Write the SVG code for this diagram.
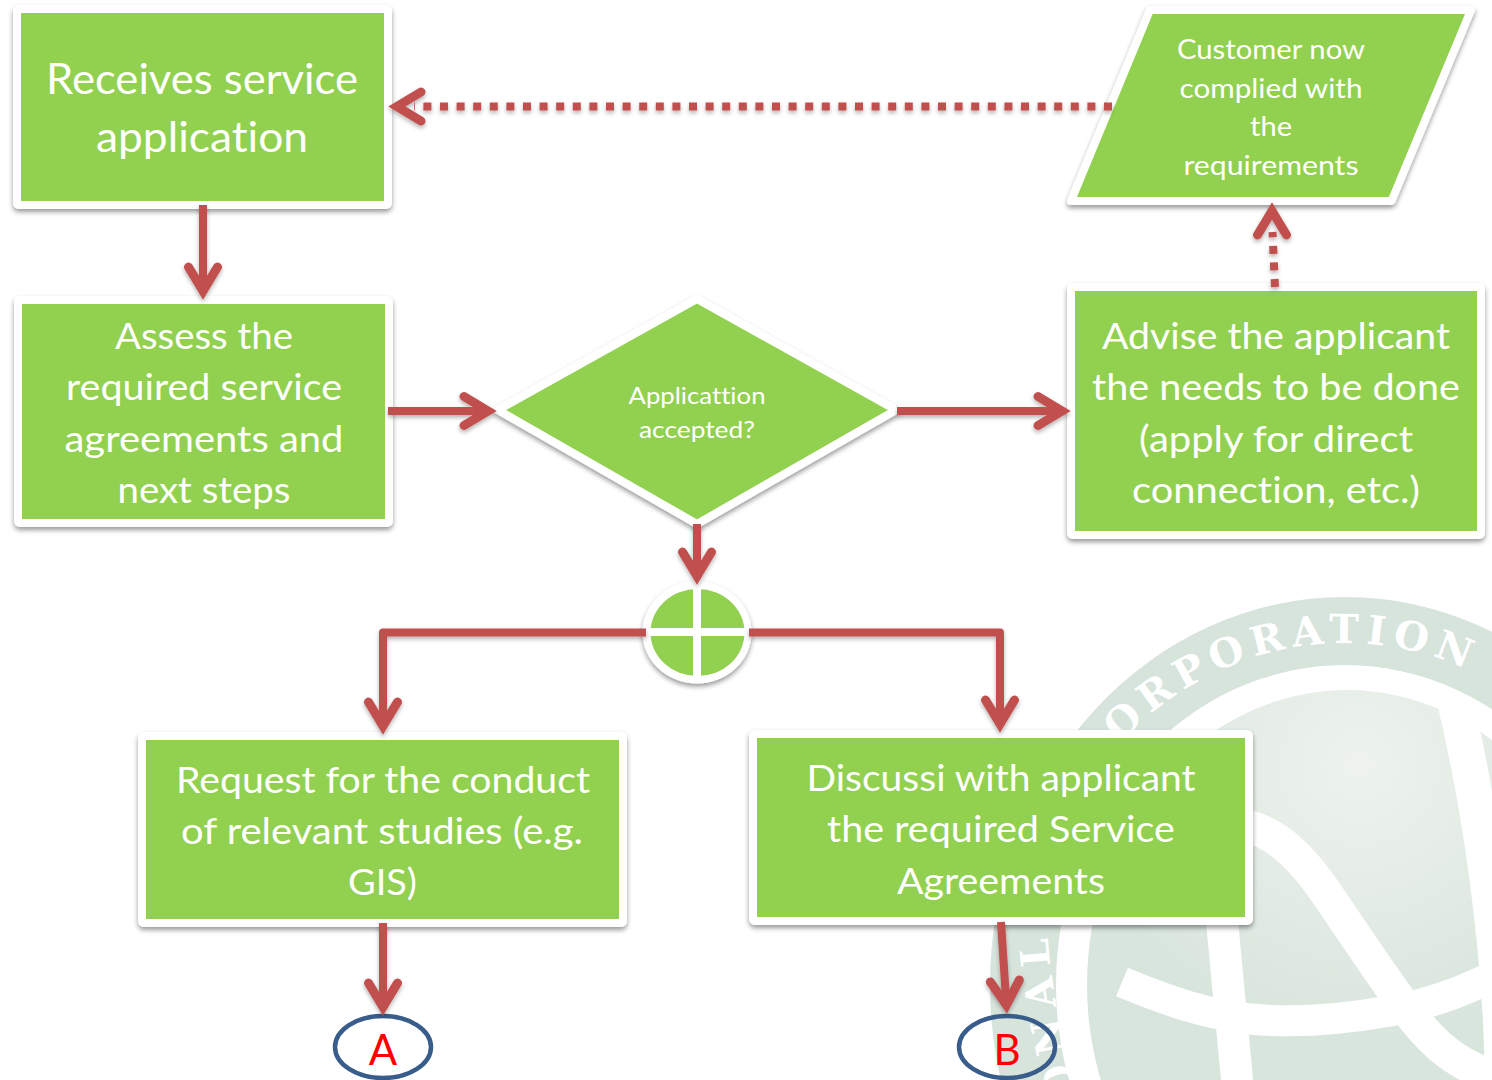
<svg xmlns="http://www.w3.org/2000/svg" width="1492" height="1080" viewBox="0 0 1492 1080">
<defs>
<style>
.box{fill:#92D050;stroke:#fff;stroke-width:8;stroke-linejoin:round;filter:url(#sh)}
.t{font-family:"Lato","Carlito","Liberation Sans",sans-serif;fill:#fff;text-anchor:middle;font-variant-ligatures:none}
.c{fill:none;stroke:#C0504D;stroke-width:8}
.d{stroke-dasharray:8 8.6}
.w{fill:none;stroke:#fff}
.wt{font-family:"DejaVu Serif",serif;font-weight:bold;font-size:40px;letter-spacing:7px;fill:#fff}
.o{fill:none;stroke:#385D8A;stroke-width:4.5}
.l{font-family:"Lato","Carlito","Liberation Sans",sans-serif;fill:#f00;font-size:42px;text-anchor:middle}
</style>
<filter id="sh" x="-10%" y="-10%" width="120%" height="125%"><feDropShadow dx="0" dy="3" stdDeviation="2.500" flood-color="#000" flood-opacity=".4"/></filter>
<filter id="sl" filterUnits="userSpaceOnUse" x="0" y="0" width="1492" height="1080"><feDropShadow dx="0" dy="2.500" stdDeviation="2" flood-color="#000" flood-opacity=".3"/></filter>
<radialGradient id="g" gradientUnits="userSpaceOnUse" cx="1360" cy="765" r="280"><stop offset="0" stop-color="#EEF3ED"/><stop offset="1" stop-color="#D8E5DC"/></radialGradient>
<clipPath id="gc"><ellipse cx="1347" cy="985" rx="260" ry="295"/></clipPath>
<path id="arcTop" d="M1120,743 A318,342 0 0 1 1490,681"/>
<path id="arcLeft" d="M1078,1095 C1062,1040 1050,990 1046,910"/>
<marker id="ah" markerUnits="userSpaceOnUse" markerWidth="50" markerHeight="50" refX="30" refY="25" orient="auto" viewBox="0 0 50 50"><path d="M6,10.500 L30,25 L6,39.500" fill="none" stroke="#C0504D" stroke-width="9" stroke-linecap="round" stroke-linejoin="miter" stroke-miterlimit="10"/></marker>
</defs>
<rect width="1492" height="1080" fill="#fff"/>
<g id="watermark">
<ellipse cx="1345" cy="985" rx="355" ry="388" fill="#D7E4DC"/>
<ellipse cx="1345" cy="985" rx="289" ry="320" fill="#fff"/>
<ellipse cx="1347" cy="985" rx="260" ry="295" fill="url(#g)"/>
<g clip-path="url(#gc)">
<path class="w" stroke-width="33" d="M1240,825 C1280,830 1310,868 1333,903 C1360,943 1385,980 1405,1007 C1425,1035 1450,1062 1490,1075"/>
<path class="w" stroke-width="31" d="M1122,982 C1170,1002 1210,1015 1250,1019 C1300,1024 1350,1018 1390,1011 C1425,1005 1455,995 1490,978"/>
<path class="w" stroke-width="32" d="M1220,900 C1226,960 1232,1030 1238,1090"/>
<path class="w" stroke-width="36" d="M1450,680 C1480,800 1502,950 1503,1090"/>
</g>
<text class="wt"><textPath href="#arcTop">ORPORATION</textPath></text>
<text class="wt" style="letter-spacing:10px"><textPath href="#arcLeft">ONAL</textPath></text>
</g>
<g id="n1"><rect class="box" x="17" y="9" width="371" height="196" rx="2"/>
<text class="t" font-size="42" x="202" y="94" textLength="312" lengthAdjust="spacingAndGlyphs">Receives service</text>
<text class="t" font-size="42" x="202" y="152" textLength="212" lengthAdjust="spacingAndGlyphs">application</text></g>
<g id="n2"><rect class="box" x="18" y="300" width="371" height="223" rx="2"/>
<text class="t" font-size="37" x="204" y="349" textLength="178" lengthAdjust="spacingAndGlyphs">Assess the</text>
<text class="t" font-size="37" x="204" y="400" textLength="276" lengthAdjust="spacingAndGlyphs">required service</text>
<text class="t" font-size="37" x="204" y="452" textLength="279" lengthAdjust="spacingAndGlyphs">agreements and</text>
<text class="t" font-size="37" x="204" y="503" textLength="173" lengthAdjust="spacingAndGlyphs">next steps</text></g>
<g id="n3"><polygon class="box" points="697,299 896,410 697,524 498,410"/>
<text class="t" font-size="24" x="697" y="404" textLength="137" lengthAdjust="spacingAndGlyphs">Applicattion</text>
<text class="t" font-size="24" x="697" y="438" textLength="116" lengthAdjust="spacingAndGlyphs">accepted?</text></g>
<g id="n4"><rect class="box" x="1071" y="287" width="410" height="248" rx="2"/>
<text class="t" font-size="37" x="1276" y="349" textLength="348" lengthAdjust="spacingAndGlyphs">Advise the applicant</text>
<text class="t" font-size="37" x="1276" y="400" textLength="368" lengthAdjust="spacingAndGlyphs">the needs to be done</text>
<text class="t" font-size="37" x="1276" y="452" textLength="274" lengthAdjust="spacingAndGlyphs">(apply for direct</text>
<text class="t" font-size="37" x="1276" y="503" textLength="288" lengthAdjust="spacingAndGlyphs">connection, etc.)</text></g>
<g id="n5"><polygon class="box" points="1150,10 1471,10 1391.500,201 1071,201"/>
<text class="t" font-size="27" x="1271" y="59" textLength="188" lengthAdjust="spacingAndGlyphs">Customer now</text>
<text class="t" font-size="27" x="1271" y="98" textLength="183" lengthAdjust="spacingAndGlyphs">complied with</text>
<text class="t" font-size="27" x="1271" y="136" textLength="42" lengthAdjust="spacingAndGlyphs">the</text>
<text class="t" font-size="27" x="1271" y="175" textLength="175" lengthAdjust="spacingAndGlyphs">requirements</text></g>
<g id="n6"><ellipse cx="697" cy="632.500" rx="54.500" ry="51" fill="#fff" filter="url(#sh)"/>
<ellipse cx="697.500" cy="632.500" rx="47" ry="43.500" fill="#92D050"/>
<path d="M697,585 V680 M646,632 H748" stroke="#fff" stroke-width="8" fill="none"/></g>
<g id="n7"><rect class="box" x="142" y="736" width="481" height="187" rx="2"/>
<text class="t" font-size="37" x="383" y="793" textLength="414" lengthAdjust="spacingAndGlyphs">Request for the conduct</text>
<text class="t" font-size="37" x="382" y="844" textLength="402" lengthAdjust="spacingAndGlyphs">of relevant studies (e.g.</text>
<text class="t" font-size="37" x="382.500" y="895" textLength="69" lengthAdjust="spacingAndGlyphs">GIS)</text></g>
<g id="n8"><rect class="box" x="753" y="734" width="496" height="187" rx="2"/>
<text class="t" font-size="37" x="1001" y="791" textLength="389" lengthAdjust="spacingAndGlyphs">Discussi with applicant</text>
<text class="t" font-size="37" x="1001" y="842" textLength="348" lengthAdjust="spacingAndGlyphs">the required Service</text>
<text class="t" font-size="37" x="1001" y="894" textLength="208" lengthAdjust="spacingAndGlyphs">Agreements</text></g>
<g id="n9"><ellipse class="o" cx="383" cy="1047" rx="48" ry="31"/><text class="l" x="383" y="1065">A</text></g>
<g id="n10"><ellipse class="o" cx="1007" cy="1047" rx="48" ry="31"/><text class="l" x="1007" y="1065">B</text></g>
<g id="connectors" filter="url(#sl)">
<path class="c" d="M203,205 V291" marker-end="url(#ah)"/>
<path class="c" d="M388,411 H488" marker-end="url(#ah)"/>
<path class="c" d="M897,411 H1062" marker-end="url(#ah)"/>
<path class="c" d="M697,524 V576" marker-end="url(#ah)"/>
<path class="c" d="M646,632.500 H383 V726" marker-end="url(#ah)" stroke-linejoin="round"/>
<path class="c" d="M749,632.500 H1000 V724" marker-end="url(#ah)" stroke-linejoin="round"/>
<path class="c" d="M383,923 V1007" marker-end="url(#ah)"/>
<path class="c" d="M1001,922 L1006.400,1005" marker-end="url(#ah)"/>
<path class="c d" d="M1112,106.500 H414"/>
<path class="c" d="M398,106.500 H397" marker-end="url(#ah)"/>
<path class="c d" d="M1275,287 L1272.500,232"/>
<path class="c" d="M1272,212 L1272,211" marker-end="url(#ah)"/>
</g>
</svg>
